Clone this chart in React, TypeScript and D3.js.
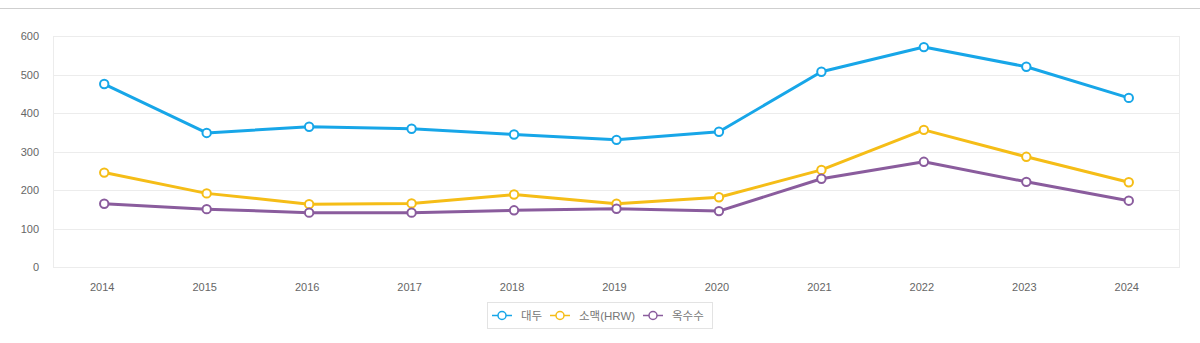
import React from "react";
import * as d3 from "d3";

const years = ["2014","2015","2016","2017","2018","2019","2020","2021","2022","2023","2024"];
const soybean = [476, 349, 365, 360, 345, 331, 352, 508, 572, 521, 440];
const wheat = [246, 192, 164, 166, 189, 165, 182, 253, 357, 287, 221];
const corn = [165, 151, 142, 142, 148, 152, 146, 230, 274, 222, 173];
const seriesNames = ["대두", "소맥(HRW)", "옥수수"];
const seriesColors = ["#17a6e8", "#f5bd17", "#8a5c9d"];
const yTicks = [0, 100, 200, 300, 400, 500, 600];

const W = 1200, H = 343;
const left = 53, right = 1180, top = 36.3, bottom = 267.3;
const font = "'Liberation Sans', 'Noto Sans CJK KR', Arial, sans-serif";

export default function App() {
  const x = d3.scaleBand<string>().domain(years).range([left, right]);
  const y = d3.scaleLinear().domain([0, 600]).range([bottom, top]);
  const data = [soybean, wheat, corn];
  const line = d3.line<number>().x((_, i) => x(years[i])! + x.bandwidth() / 2).y(d => y(d));

  const legendItems = [
    { x: 492, tx: 521 },
    { x: 550, tx: 579 },
    { x: 643, tx: 672 },
  ];

  return (
    <svg width={W} height={H} style={{ position: "absolute", left: 0, top: 0, background: "#fff" }}>
      <line x1={0} x2={W} y1={8.5} y2={8.5} stroke="#cfcfcf" strokeWidth={1} />
      {yTicks.map(t => (
        <g key={t}>
          <line x1={left} x2={right} y1={Math.round(y(t)) + 0.5} y2={Math.round(y(t)) + 0.5} stroke="#ececec" />
          <text x={39} y={y(t)} dy="0.35em" textAnchor="end" fontSize={11} fill="#666" fontFamily={font}>{t}</text>
        </g>
      ))}
      <line x1={left + 0.5} x2={left + 0.5} y1={top} y2={bottom} stroke="#ececec" />
      <line x1={right - 0.5} x2={right - 0.5} y1={top} y2={bottom} stroke="#ececec" />
      {years.map(yr => (
        <text key={yr} x={x(yr)! + x.bandwidth() / 2 - 2} y={287} dy="0.35em" textAnchor="middle" fontSize={11} fill="#666" fontFamily={font}>{yr}</text>
      ))}
      {data.map((s, si) => (
        <g key={si}>
          <path d={line(s)!} fill="none" stroke={seriesColors[si]} strokeWidth={3} strokeLinejoin="round" />
          {s.map((v, i) => (
            <circle key={i} cx={x(years[i])! + x.bandwidth() / 2} cy={y(v)} r={4.2} fill="#fff" stroke={seriesColors[si]} strokeWidth={2} />
          ))}
        </g>
      ))}
      <rect x={487.5} y={302.5} width={225} height={26} fill="#fff" stroke="#e3e3e3" />
      {seriesNames.map((n, i) => (
        <g key={n}>
          <line x1={legendItems[i].x} x2={legendItems[i].x + 20} y1={315.5} y2={315.5} stroke={seriesColors[i]} strokeWidth={1.5} />
          <circle cx={legendItems[i].x + 10} cy={315.5} r={4} fill="#fff" stroke={seriesColors[i]} strokeWidth={1.5} />
          <text x={legendItems[i].tx} y={315.5} dy="0.35em" fontSize={11.5} fill="#777" fontFamily={font}>{n}</text>
        </g>
      ))}
    </svg>
  );
}
